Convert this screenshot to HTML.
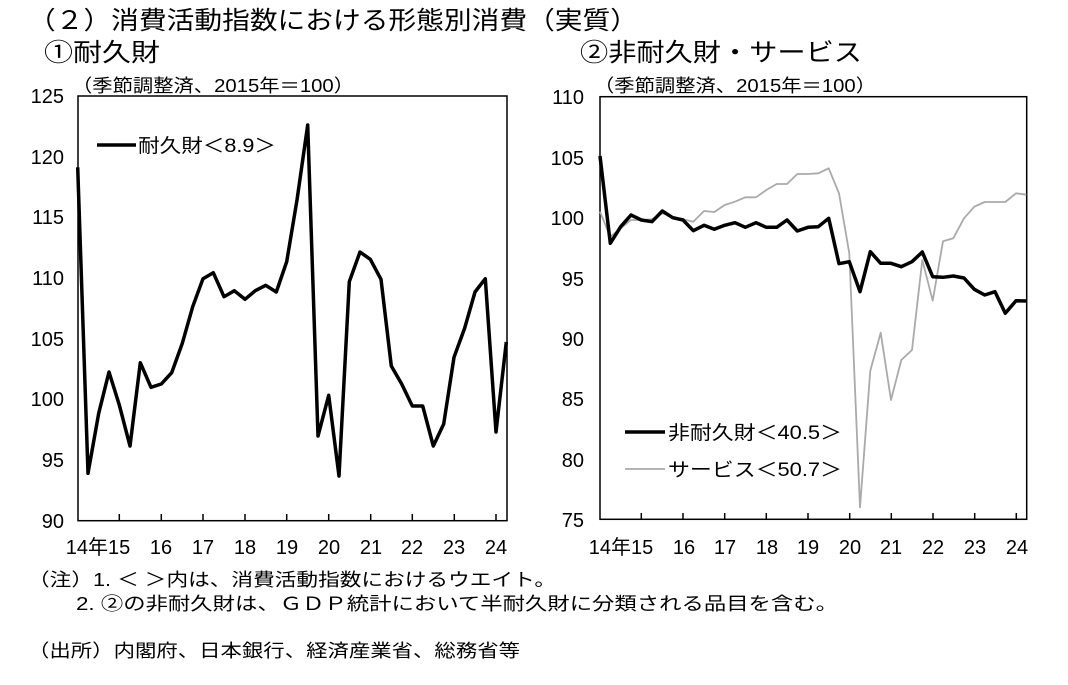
<!DOCTYPE html>
<html><head><meta charset="utf-8"><style>
body{margin:0;background:#fff;}
svg text{font-family:"Liberation Sans","Noto Sans CJK JP",sans-serif;fill:#000;}
</style></head><body>
<svg width="1068" height="680" viewBox="0 0 1068 680" xmlns="http://www.w3.org/2000/svg">
<text x="28" y="29" font-size="25" textLength="610" lengthAdjust="spacingAndGlyphs">（２）消費活動指数における形態別消費（実質）</text>
<text x="44" y="61" font-size="25" textLength="116" lengthAdjust="spacingAndGlyphs">①耐久財</text>
<text x="580" y="61" font-size="25" textLength="282" lengthAdjust="spacingAndGlyphs">②非耐久財・サービス</text>
<text x="72" y="92" font-size="18" textLength="282" lengthAdjust="spacingAndGlyphs">（季節調整済、2015年＝100）</text>
<text x="594" y="92" font-size="18" textLength="282" lengthAdjust="spacingAndGlyphs">（季節調整済、2015年＝100）</text>

<!-- left chart -->
<g font-size="20">
<rect x="78" y="96" width="429" height="424.7" fill="none" stroke="#000" stroke-width="1.5"/>
<g text-anchor="end">
<text x="64" y="103">125</text><text x="64" y="164">120</text><text x="64" y="224">115</text><text x="64" y="285">110</text><text x="64" y="346">105</text><text x="64" y="406">100</text><text x="64" y="467">95</text><text x="64" y="528">90</text>
</g>
<g stroke="#000" stroke-width="1.5">
<line x1="119.3" y1="520.7" x2="119.3" y2="514"/><line x1="161.3" y1="520.7" x2="161.3" y2="514"/><line x1="203" y1="520.7" x2="203" y2="514"/><line x1="245" y1="520.7" x2="245" y2="514"/><line x1="286.7" y1="520.7" x2="286.7" y2="514"/><line x1="328.7" y1="520.7" x2="328.7" y2="514"/><line x1="370.7" y1="520.7" x2="370.7" y2="514"/><line x1="412.3" y1="520.7" x2="412.3" y2="514"/><line x1="454.3" y1="520.7" x2="454.3" y2="514"/><line x1="496" y1="520.7" x2="496" y2="514"/>
</g>
<g text-anchor="middle">
<text x="98" y="554">14年15</text><text x="161" y="554">16</text><text x="203" y="554">17</text><text x="245" y="554">18</text><text x="287" y="554">19</text><text x="329" y="554">20</text><text x="371" y="554">21</text><text x="412" y="554">22</text><text x="454" y="554">23</text><text x="496" y="554">24</text>
</g>
<polyline fill="none" stroke="#000" stroke-width="3.5" stroke-linejoin="round" points="77.7,167.3 88,473.3 98.7,413.3 109,372 119.3,405 130,446 140.3,362.7 151,387.3 161.3,384 171.7,372.7 182.3,343.3 192.7,306.7 203,278.7 213.3,272.7 224,296.7 234.3,290.7 245,299.3 255.3,290.7 265.7,285.3 276.3,292 286.7,261.7 297,200 307.7,125 318,436 328.7,395.3 339,476 349.3,281.7 360,252 370.3,259.3 381,279.3 391.3,366 401.7,384 412.3,406 422.7,406 433.3,446 443.7,424 454,357.3 464.7,328 475,292 485.3,278.7 496,432 506.3,342"/>
<line x1="97" y1="145" x2="136" y2="145" stroke="#000" stroke-width="3.5"/>
<text x="138" y="152" font-size="19" textLength="138" lengthAdjust="spacingAndGlyphs">耐久財＜8.9＞</text>
</g>

<!-- right chart -->
<g font-size="20">
<rect x="600" y="96.7" width="426.7" height="422.6" fill="none" stroke="#000" stroke-width="1.5"/>
<g text-anchor="end">
<text x="584" y="104">110</text><text x="584" y="165">105</text><text x="584" y="225">100</text><text x="584" y="286">95</text><text x="584" y="346">90</text><text x="584" y="406">85</text><text x="584" y="467">80</text><text x="584" y="527">75</text>
</g>
<g stroke="#000" stroke-width="1.5">
<line x1="641.3" y1="519.3" x2="641.3" y2="513"/><line x1="683" y1="519.3" x2="683" y2="513"/><line x1="724.7" y1="519.3" x2="724.7" y2="513"/><line x1="766.3" y1="519.3" x2="766.3" y2="513"/><line x1="808" y1="519.3" x2="808" y2="513"/><line x1="849.7" y1="519.3" x2="849.7" y2="513"/><line x1="891.3" y1="519.3" x2="891.3" y2="513"/><line x1="933" y1="519.3" x2="933" y2="513"/><line x1="974.7" y1="519.3" x2="974.7" y2="513"/><line x1="1016.3" y1="519.3" x2="1016.3" y2="513"/>
</g>
<g text-anchor="middle">
<text x="621" y="554">14年15</text><text x="684" y="554">16</text><text x="725" y="554">17</text><text x="767" y="554">18</text><text x="808" y="554">19</text><text x="850" y="554">20</text><text x="891" y="554">21</text><text x="933" y="554">22</text><text x="975" y="554">23</text><text x="1017" y="554">24</text>
</g>
<polyline fill="none" stroke="#aaa" stroke-width="1.8" stroke-linejoin="round" points="600,211.7 610.3,236.7 620.7,228.3 631,220 641.3,220 652,219.3 662.3,213.3 672.7,216.7 683,219.3 693.3,221.7 704,211 714.3,212 724.7,205 735,201.7 745.3,197.3 756,197.3 766.3,190 776.7,184 787,184 797.3,174 808,174 818.3,173.3 828.7,168.3 839,193.3 849.3,253.3 860,507.3 870.3,370.7 880.7,332.7 891,400 901.3,360 912,350 922.3,260 932.7,300.7 943,241.3 953.3,238.3 964,218.3 974.3,206.7 984.7,202 995,202 1005.3,202 1016,193.3 1026.3,194.7"/>
<polyline fill="none" stroke="#000" stroke-width="3.5" stroke-linejoin="round" points="600,156 610.3,243.3 620.7,226.7 631,215 641.3,220 652,221.7 662.3,211 672.7,217.7 683,220 693.3,230.7 704,225.3 714.3,229.3 724.7,225.3 735,222.7 745.3,227.3 756,222.7 766.3,227.3 776.7,227.3 787,220 797.3,231 808,227.3 818.3,226.7 828.7,218.3 839,263.7 849.3,261.7 860,291.7 870.3,251.7 880.7,263.3 891,263.3 901.3,266.7 912,261.7 922.3,252 932.7,276.7 943,277.3 953.3,276 964,278 974.3,289.3 984.7,295 995,291.7 1005.3,313.3 1016,300.7 1026.3,301"/>
<line x1="625" y1="432" x2="665" y2="432" stroke="#000" stroke-width="3.5"/>
<text x="668" y="439" font-size="19" textLength="174" lengthAdjust="spacingAndGlyphs">非耐久財＜40.5＞</text>
<line x1="625" y1="469" x2="665" y2="469" stroke="#aaa" stroke-width="1.8"/>
<text x="668" y="476" font-size="19" textLength="174" lengthAdjust="spacingAndGlyphs">サービス＜50.7＞</text>
</g>

<text x="28" y="586" font-size="18" textLength="528" lengthAdjust="spacingAndGlyphs">（注）1. ＜ ＞内は、消費活動指数におけるウエイト。</text>
<text x="76" y="610" font-size="18" textLength="762" lengthAdjust="spacingAndGlyphs">2. ②の非耐久財は、ＧＤＰ統計において半耐久財に分類される品目を含む。</text>
<text x="28" y="657" font-size="18" textLength="492" lengthAdjust="spacingAndGlyphs">（出所）内閣府、日本銀行、経済産業省、総務省等</text>
</svg>
</body></html>
